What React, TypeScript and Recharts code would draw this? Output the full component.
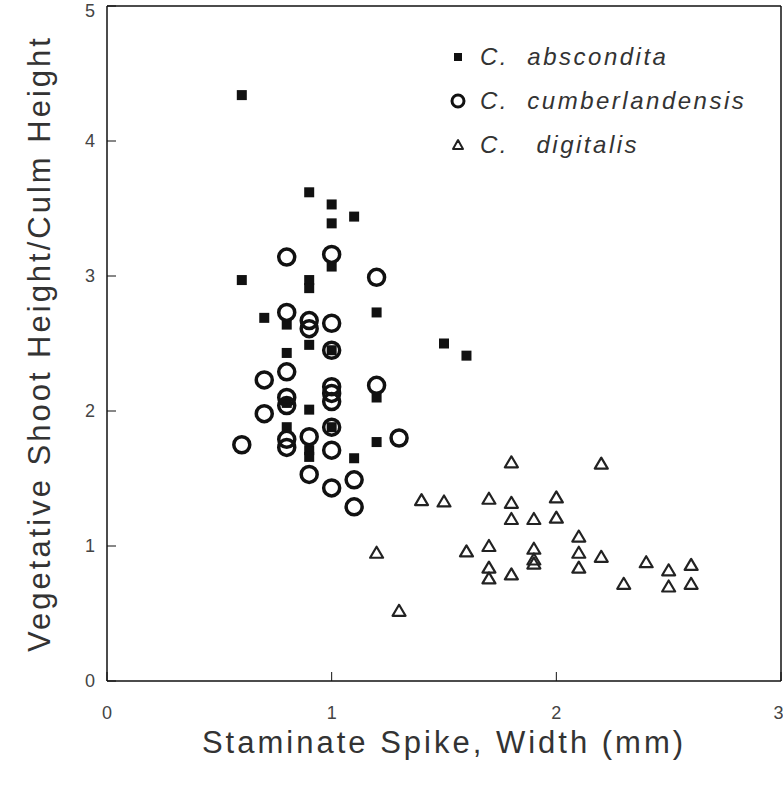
import React from "react";
import {
  ScatterChart,
  Scatter,
  XAxis,
  YAxis,
  ReferenceLine,
  Legend,
  Label,
} from "recharts";

const FONT = '"Liberation Sans", Arial, Helvetica, sans-serif';

const X_TICKS = [0, 1, 2, 3];
const Y_TICKS = [0, 1, 2, 3, 4, 5];

const SERIES_NAMES = ["C.  abscondita", "C.  cumberlandensis", "C.   digitalis"];

// [spike width (mm), shoot height / culm height]
const abscondita: [number, number][] = [
  [0.6, 4.34], [0.6, 2.97], [0.9, 3.62], [1.0, 3.53], [1.0, 3.39], [1.1, 3.44],
  [1.0, 3.07], [0.9, 2.97], [0.9, 2.91], [1.2, 2.73], [0.7, 2.69], [0.8, 2.64],
  [0.9, 2.49], [0.8, 2.43], [1.0, 2.45], [1.5, 2.5], [1.6, 2.41], [0.9, 2.01],
  [0.8, 1.88], [1.2, 2.1], [1.2, 1.77], [1.1, 1.65], [0.9, 1.71], [0.9, 1.66],
  [1.0, 1.88], [0.8, 2.06],
];

const cumberlandensis: [number, number][] = [
  [0.8, 3.14], [1.0, 3.16], [1.2, 2.99], [0.8, 2.73], [0.9, 2.67], [0.9, 2.61],
  [1.0, 2.65], [1.0, 2.45], [0.7, 2.23], [0.8, 2.29], [0.8, 2.1], [0.8, 2.04],
  [1.0, 2.18], [1.0, 2.13], [1.0, 2.07], [1.2, 2.19], [0.7, 1.98], [1.0, 1.88],
  [0.8, 1.79], [0.8, 1.73], [0.9, 1.81], [1.0, 1.71], [0.6, 1.75], [1.3, 1.8],
  [0.9, 1.53], [1.0, 1.43], [1.1, 1.49], [1.1, 1.29],
];

const digitalis: [number, number][] = [
  [1.8, 1.62], [1.4, 1.34], [1.5, 1.33], [1.7, 1.35], [1.8, 1.32], [1.8, 1.2],
  [1.2, 0.95], [1.6, 0.96], [1.7, 1.0], [1.7, 0.84], [1.7, 0.76], [1.8, 0.79],
  [1.3, 0.52], [2.2, 1.61], [2.0, 1.36], [1.9, 1.2], [2.0, 1.21], [2.1, 1.07],
  [1.9, 0.98], [1.9, 0.87], [1.9, 0.9], [2.1, 0.95], [2.2, 0.92], [2.1, 0.84],
  [2.4, 0.88], [2.5, 0.82], [2.6, 0.86], [2.3, 0.72], [2.5, 0.7], [2.6, 0.72],
];

const toPoints = (arr: [number, number][]) => arr.map(([x, y]) => ({ x, y }));

const SquareDot = (p: any) => (
  <rect x={p.cx - 5} y={p.cy - 5} width={10} height={10} fill="#111" />
);

const RingDot = (p: any) => (
  <circle cx={p.cx} cy={p.cy} r={8} fill="none" stroke="#111" strokeWidth={3.5} />
);

const TriDot = (p: any) => (
  <polygon
    points={`${p.cx},${p.cy - 6} ${p.cx - 6.5},${p.cy + 5} ${p.cx + 6.5},${p.cy + 5}`}
    fill="none"
    stroke="#222"
    strokeWidth={2.2}
    strokeLinejoin="round"
  />
);

function LegendIcon({ i }: { i: number }) {
  if (i === 0) return <rect x={9} y={7} width={8} height={8} fill="#111" />;
  if (i === 1)
    return <circle cx={13} cy={11} r={6} fill="none" stroke="#111" strokeWidth={3} />;
  return (
    <polygon
      points="13,6 8,15 18,15"
      fill="none"
      stroke="#222"
      strokeWidth={2}
      strokeLinejoin="round"
    />
  );
}

function renderLegend() {
  return (
    <div
      style={{
        fontFamily: FONT,
        fontStyle: "italic",
        fontSize: 24,
        color: "#333",
        letterSpacing: 2.5,
      }}
    >
      {SERIES_NAMES.map((name, i) => (
        <div key={name} style={{ display: "flex", alignItems: "center", height: 44 }}>
          <svg width={26} height={22}>
            <LegendIcon i={i} />
          </svg>
          <span style={{ whiteSpace: "pre", marginLeft: 9 }}>{name}</span>
        </div>
      ))}
    </div>
  );
}

const tickStyle = { fontSize: 18, fill: "#444", fontFamily: FONT };
const axisLine = { stroke: "#111", strokeWidth: 1.5 };

export default function App() {
  return (
    <div style={{ position: "absolute", left: 0, top: 0, background: "#fff" }}>
      <ScatterChart
        width={783}
        height={785}
        margin={{ top: 6, right: 2, bottom: 64, left: 47 }}
      >
        <XAxis
          type="number"
          dataKey="x"
          domain={[0, 3]}
          ticks={X_TICKS}
          height={40}
          tickSize={-9}
          tickMargin={34}
          axisLine={axisLine}
          tickLine={{ stroke: "#111" }}
          tick={tickStyle}
        >
          <Label
            content={(props: any) => {
              const vb = props.viewBox || {};
              return (
                <text
                  x={vb.x + vb.width / 2}
                  y={753}
                  textAnchor="middle"
                  fontFamily={FONT}
                  fontSize={31}
                  letterSpacing={3}
                  fill="#333"
                >
                  Staminate Spike, Width (mm)
                </text>
              );
            }}
          />
        </XAxis>
        <YAxis
          type="number"
          dataKey="y"
          domain={[0, 5]}
          ticks={Y_TICKS}
          width={60}
          tickSize={-9}
          tickMargin={21}
          axisLine={axisLine}
          tickLine={{ stroke: "#111" }}
          tick={tickStyle}
        >
          <Label
            content={(props: any) => {
              const vb = props.viewBox || {};
              const cy = vb.y + vb.height / 2;
              return (
                <text
                  x={50}
                  y={cy}
                  transform={`rotate(-90 50 ${cy})`}
                  textAnchor="middle"
                  fontFamily={FONT}
                  fontSize={31}
                  letterSpacing={3}
                  fill="#333"
                >
                  Vegetative Shoot Height/Culm Height
                </text>
              );
            }}
          />
        </YAxis>
        <ReferenceLine y={5} stroke="#111" strokeWidth={1.5} />
        <ReferenceLine x={3} stroke="#111" strokeWidth={1.5} />
        <Legend
          layout="vertical"
          align="center"
          verticalAlign="middle"
          wrapperStyle={{ left: 445, top: 35, width: 330 }}
          content={renderLegend}
        />
        <Scatter
          name={SERIES_NAMES[0]}
          data={toPoints(abscondita)}
          shape={SquareDot}
          isAnimationActive={false}
        />
        <Scatter
          name={SERIES_NAMES[1]}
          data={toPoints(cumberlandensis)}
          shape={RingDot}
          isAnimationActive={false}
        />
        <Scatter
          name={SERIES_NAMES[2]}
          data={toPoints(digitalis)}
          shape={TriDot}
          isAnimationActive={false}
        />
      </ScatterChart>
    </div>
  );
}
